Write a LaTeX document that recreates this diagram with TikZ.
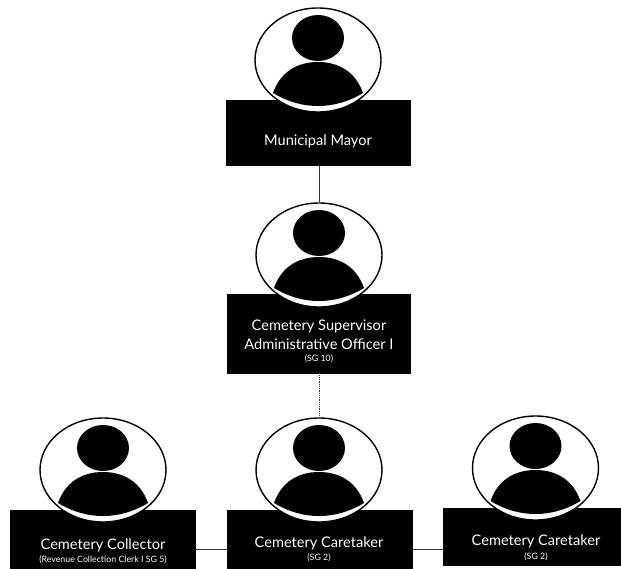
\documentclass[tikz,border=0pt]{standalone}
\usepackage{fontspec}
\setmainfont{Lato}
\usetikzlibrary{shapes.geometric}
\tikzset{
  x=1pt,y=-1pt,
  box/.style={draw=black,fill=black,inner sep=0pt,minimum width=#1,anchor=north west},
  ring/.style={ellipse,draw=black,line width=1.4pt,fill=white,inner sep=0pt,minimum width=126pt,minimum height=104pt},
  headshape/.style={ellipse,fill=black,inner sep=0pt,minimum width=52pt,minimum height=46pt},
  main/.style={text=white,font=\fontsize{14.6}{17}\selectfont,inner sep=0pt},
  sub/.style={text=white,font=\fontsize{8.8}{10}\selectfont,inner sep=0pt},
  link/.style={draw=black!80,line width=0.8pt},
}
\newcommand{\persona}[3]{%
  \node[ring] (#1) at (#2,#3) {};
  \node[headshape] (#1head) at (#2,#3-22) {};
  \fill[black,shift={(#2,#3)}] (-45,33) .. controls (-38,13) and (-22,2) .. (0,2)
     .. controls (22,2) and (38,13) .. (45,33)
     .. controls (30,42) and (15,46) .. (0,46)
     .. controls (-15,46) and (-30,42) .. (-45,33) -- cycle;
}
\begin{document}
\begin{tikzpicture}
\useasboundingbox (0,0) rectangle (621,568);
% boxes
\node[box=184pt,minimum height=65pt] (mayorbox) at (226,100) {};
\node[box=183pt,minimum height=79pt] (supbox) at (227,294) {};
\node[box=185pt,minimum height=58pt] (colbox) at (10,510) {};
\node[box=185pt,minimum height=58pt] (carebox) at (227,510) {};
\node[box=178pt,minimum height=57pt] (care2box) at (443,508) {};
% avatars
\persona{mayor}{318}{60}
\persona{sup}{319}{255}
\persona{col}{103}{470}
\persona{care}{319}{470}
\persona{caretwo}{535.5}{468}
% connectors
\draw[link] (mayorbox.south -| sup.north) -- (sup.north);
\draw[link,densely dotted] (supbox.south -| sup.south) -- (care.north);
\draw[link] ([yshift=-10pt]colbox.east) -- ([yshift=-10pt]carebox.west);
\draw[link] ([yshift=-10pt]carebox.east) -- ([yshift=-10pt]carebox.east -| care2box.west);
% labels
\node[main] (mayortxt) at (318,141) {Municipal Mayor};
\node[main] (suptxt1) at (319,326) {Cemetery Supervisor};
\node[main] (suptxt2) at (319,344) {Administrative Officer I};
\node[sub] (suptxt3) at (319,359) {(SG 10)};
\node[main] (coltxt) at (103,545) {Cemetery Collector};
\node[sub] (coltxt2) at (103,560) {(Revenue Collection Clerk I SG 5)};
\node[main] (caretxt) at (319,543) {Cemetery Caretaker};
\node[sub] (caretxt2) at (319,558) {(SG 2)};
\node[main] (care2txt) at (536,541) {Cemetery Caretaker};
\node[sub] (care2txt2) at (536,557) {(SG 2)};
\end{tikzpicture}
\end{document}
